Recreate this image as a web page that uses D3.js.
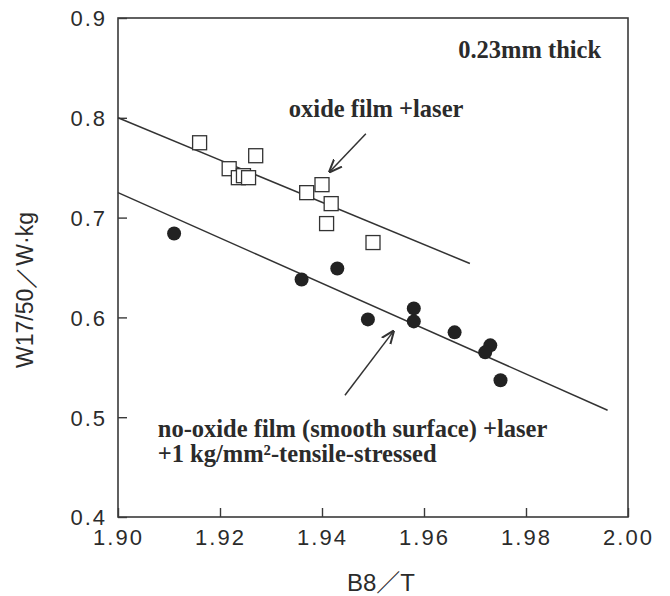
<!DOCTYPE html>
<html lang="en">

<head>
  <meta charset="UTF-8">
  <title>W17/50 vs B8</title>
  <script src="https://d3js.org/d3.v7.min.js"></script>
  <style>
    body { margin: 0; background: #fff; }
    .frame { fill: none; stroke: #3a3a3a; stroke-width: 1.6; }
    .tick-lbl { font-family: "Liberation Sans", Arial, sans-serif; font-size: 22px; fill: #2b2b2b; letter-spacing: 2px; }
    .note { font-family: "Liberation Serif", "DejaVu Serif", serif; font-weight: bold; font-size: 24.5px; fill: #2b2b2b; }
    .fit { fill: none; stroke: #333; stroke-width: 1.5; }
    .sq { fill: #fff; stroke: #333; stroke-width: 1.3; }
    .dot { fill: #222; }
  </style>
</head>

<body>
  <svg width="670" height="596"></svg>

  <script>
    // oxide film + laser (open squares)
    const oxideB8 = [1.916, 1.9218, 1.9236, 1.9246, 1.9256, 1.927, 1.937, 1.940, 1.9418, 1.9409, 1.950];
    const oxideW  = [0.775, 0.749, 0.740, 0.742, 0.740, 0.762, 0.725, 0.733, 0.714, 0.694, 0.675];

    // no-oxide film + laser + tensile stress (filled circles)
    const plainB8 = [1.911, 1.936, 1.943, 1.949, 1.958, 1.958, 1.966, 1.973, 1.972, 1.975];
    const plainW  = [0.684, 0.638, 0.649, 0.598, 0.609, 0.596, 0.585, 0.572, 0.565, 0.537];

    // fitted lines (end points)
    const oxideFitB8 = [1.90, 1.969];
    const oxideFitW  = [0.800, 0.654];
    const plainFitB8 = [1.90, 1.996];
    const plainFitW  = [0.725, 0.507];

    const xTicks = [1.90, 1.92, 1.94, 1.96, 1.98, 2.00];
    const yTicks = [0.4, 0.5, 0.6, 0.7, 0.8, 0.9];

    const margin = { top: 18, right: 42, bottom: 79, left: 118 };
    const width = 670 - margin.left - margin.right;
    const height = 596 - margin.top - margin.bottom;

    const svg = d3.select('svg');
    const g = svg.append('g').attr('transform', `translate(${margin.left},${margin.top})`);

    const x = d3.scaleLinear().domain([1.90, 2.00]).range([0, width]);
    const y = d3.scaleLinear().domain([0.4, 0.9]).range([height, 0]);

    // frame
    g.append('rect').attr('class', 'frame').attr('width', width).attr('height', height);

    // axes with inward ticks
    const xAxis = g.append('g')
      .attr('transform', `translate(0,${height})`)
      .call(d3.axisBottom(x).tickValues(xTicks).tickSize(-9).tickPadding(12).tickFormat(d3.format('.2f')));
    const yAxis = g.append('g')
      .call(d3.axisLeft(y).tickValues(yTicks).tickSize(-9).tickPadding(11).tickFormat(d3.format('.1f')));

    [xAxis, yAxis].forEach(a => {
      a.select('.domain').remove();
      a.selectAll('line').attr('stroke', '#3a3a3a').attr('stroke-width', 1.4);
      a.selectAll('text').attr('class', 'tick-lbl').attr('font-family', null).attr('font-size', null);
    });
    xAxis.selectAll('text').attr('dy', '0.72em');
    yAxis.selectAll('text').attr('dy', '0.36em');

    // axis titles
    svg.append('text')
      .attr('transform', 'translate(33,290) rotate(-90)')
      .attr('text-anchor', 'middle')
      .style('font-family', '"Liberation Sans Narrow", "Liberation Sans", sans-serif')
      .style('font-size', '23px')
      .style('fill', '#2b2b2b')
      .text('W17/50／W·kg');

    svg.append('text')
      .attr('x', 381)
      .attr('y', 591)
      .attr('text-anchor', 'middle')
      .style('font-family', '"Liberation Sans", "Noto Sans CJK JP", sans-serif')
      .style('font-size', '24px')
      .style('fill', '#2b2b2b')
      .text('B8／T');

    // fitted lines
    const line = d3.line().x(d => x(d[0])).y(d => y(d[1]));
    g.append('path').attr('class', 'fit').attr('d', line(d3.zip(oxideFitB8, oxideFitW)));
    g.append('path').attr('class', 'fit').attr('d', line(d3.zip(plainFitB8, plainFitW)));

    // markers
    const sq = 14;
    g.selectAll('.sq')
      .data(d3.zip(oxideB8, oxideW))
      .enter().append('rect')
      .attr('class', 'sq')
      .attr('x', d => x(d[0]) - sq / 2)
      .attr('y', d => y(d[1]) - sq / 2)
      .attr('width', sq)
      .attr('height', sq);

    g.selectAll('.dot')
      .data(d3.zip(plainB8, plainW))
      .enter().append('circle')
      .attr('class', 'dot')
      .attr('cx', d => x(d[0]))
      .attr('cy', d => y(d[1]))
      .attr('r', 7);

    // arrows
    svg.append('defs').append('marker')
      .attr('id', 'head')
      .attr('viewBox', '0 0 10 10')
      .attr('refX', 9).attr('refY', 5)
      .attr('markerWidth', 9).attr('markerHeight', 9)
      .attr('orient', 'auto')
      .append('path')
      .attr('d', 'M0,1 L10,5 L0,9')
      .attr('fill', 'none')
      .attr('stroke', '#333')
      .attr('stroke-width', 1.5);

    const arrows = [
      [[1.9486, 0.784], [1.9415, 0.746]],
      [[1.9445, 0.522], [1.954, 0.586]]
    ];
    g.selectAll('.arrow')
      .data(arrows)
      .enter().append('path')
      .attr('class', 'fit')
      .attr('d', d => line(d))
      .attr('marker-end', 'url(#head)');

    // notes
    g.append('text').attr('class', 'note')
      .attr('x', x(1.9667)).attr('y', y(0.860))
      .text('0.23mm thick');

    g.append('text').attr('class', 'note')
      .attr('x', x(1.9335)).attr('y', y(0.801))
      .text('oxide film +laser');

    const n = g.append('text').attr('class', 'note')
      .attr('x', x(1.9078)).attr('y', y(0.480));
    n.append('tspan').text('no-oxide film (smooth surface) +laser');
    n.append('tspan').attr('x', x(1.9078)).attr('dy', 25).text('+1 kg/mm²-tensile-stressed');
  </script>
</body>

</html>
